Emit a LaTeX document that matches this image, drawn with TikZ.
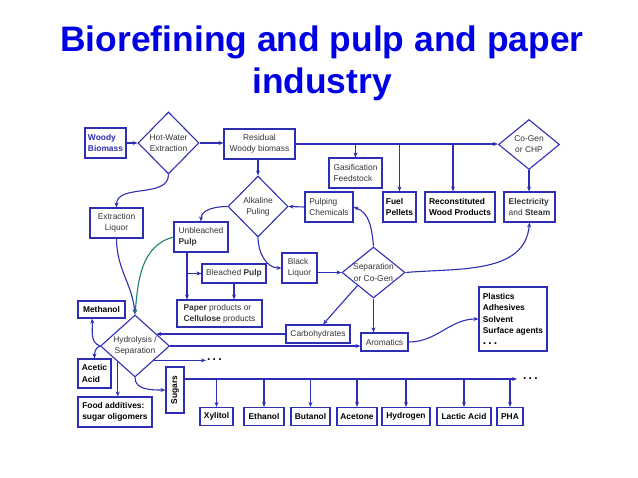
\documentclass[tikz,border=0pt]{standalone}
\usepackage{fontspec}
\setmainfont{Liberation Sans}
\usepackage{graphicx}
\usetikzlibrary{shapes.geometric, arrows.meta}
\definecolor{diag}{RGB}{46,46,178}
\definecolor{ttl}{RGB}{0,0,228}
\definecolor{pulpgreen}{RGB}{28,128,112}
\newcommand{\bigdots}{{\fontsize{12}{11.2}\selectfont\bfseries .\hspace{2.2pt}.\hspace{2.2pt}.}}

\begin{document}
\begin{tikzpicture}[x=1pt, y=-1pt, >={Stealth[length=5pt,width=4pt]},
  box/.style={draw=diag, line width=1.1pt, inner sep=1.5pt, align=center, text=black!80,
    font=\fontsize{8.4}{11.2}\selectfont},
  bbox/.style={box, text=black, font=\fontsize{8.4}{11.2}\selectfont\bfseries},
  dia/.style={box, diamond, inner sep=0pt},
  flow/.style={draw=diag, line width=1.1pt, ->}]
  \useasboundingbox (0,0) rectangle (638,478);
  \node[text=ttl, font=\fontsize{35.4}{42}\bfseries, align=center, inner sep=0pt, anchor=north] (title) at (322,25.5) {Biorefining and pulp and paper\\industry};

  % top row
  \node[bbox, text=diag, align=left, minimum width=41pt, minimum height=30pt] (woody) at (105.5,143) {Woody\\Biomass};
  \node[dia, minimum width=61pt, minimum height=62pt] (hotwater) at (168.5,143) {Hot-Water\\Extraction};
  \node[box, minimum width=71pt, minimum height=30pt] (residual) at (259.5,144) {Residual\\Woody biomass};
  \node[box, align=left, minimum width=53pt, minimum height=30pt] (gasif) at (355.5,173) {Gasification\\Feedstock};
  \node[dia, aspect=1.25, minimum width=61pt, minimum height=50pt] (cogen) at (529,144.5) {Co-Gen\\or CHP};

  \node[box, minimum width=53pt, minimum height=30pt] (extliq) at (116.5,223) {Extraction\\Liquor};
  \node[dia, minimum width=60pt, minimum height=61pt] (alkaline) at (258,206.5) {Alkaline\\Puling};
  \node[box, align=left, minimum width=48pt, minimum height=30pt] (pulpchem) at (329,207) {Pulping\\Chemicals};
  \node[bbox, align=left, minimum width=33pt, minimum height=30pt] (fuel) at (399.5,207) {Fuel\\Pellets};
  \node[bbox, align=left, minimum width=70pt, minimum height=30pt] (recon) at (460,207) {Reconstituted\\Wood Products};
  \node[box, align=left, minimum width=51pt, minimum height=30pt] (elec) at (529.5,207) {\textbf{Electricity}\\and \textbf{Steam}};

  % pulp line
  \node[box, align=left, minimum width=54pt, minimum height=30pt] (unbl) at (201,237) {Unbleached\\\textbf{Pulp}};
  \node[box, minimum width=64pt, minimum height=19pt] (bleached) at (234,273.5) {Bleached \textbf{Pulp}};
  \node[box, align=left, minimum width=35pt, minimum height=30pt] (black) at (299.5,268) {Black\\Liquor};
  \node[dia, aspect=1.25, minimum width=63pt, minimum height=51pt] (sep) at (373.5,272.5) {Separation\\or Co-Gen};
  \node[box, align=left, minimum width=85pt, minimum height=27pt] (paper) at (219.5,313.5) {\textbf{Paper} products or\\\textbf{Cellulose} products};

  % hydrolysis and products
  \node[bbox, minimum width=47pt, minimum height=17pt] (methanol) at (101.5,309.5) {Methanol};
  \node[dia, aspect=1.1, minimum width=69pt, minimum height=62pt] (hydro) at (135,346) {Hydrolysis /\\Separation};
  \node[box, minimum width=64pt, minimum height=18pt] (carbo) at (318,334) {Carbohydrates};
  \node[box, minimum width=47pt, minimum height=18pt] (arom) at (384.5,342) {Aromatics};
  \node[bbox, align=left, minimum width=68pt, minimum height=64pt] (plastics) at (513,319) {Plastics\\Adhesives\\Solvent\\Surface agents\\\bigdots};
  \node[bbox, align=left, minimum width=33pt, minimum height=29pt] (acetic) at (94.5,373.5) {Acetic\\Acid};
  \node[bbox, align=left, minimum width=74pt, minimum height=30pt] (food) at (115,412) {Food additives:\\sugar oligomers};
  \node[bbox, minimum width=18pt, minimum height=46pt] (sugars) at (175,390) {\rotatebox{90}{Sugars}};
  \node[anchor=west, inner sep=1pt] (dots1) at (206,360) {\bigdots};
  \coordinate (sugend) at (517,379);
  \node[anchor=west, inner sep=1pt] (dots2) at (522,379) {\bigdots};

  \node[bbox, minimum width=33pt, minimum height=18pt] (xylitol) at (216.5,416.5) {Xylitol};
  \node[bbox, minimum width=40pt, minimum height=18pt] (ethanol) at (264,416.5) {Ethanol};
  \node[bbox, minimum width=39pt, minimum height=18pt] (butanol) at (310.5,416.5) {Butanol};
  \node[bbox, minimum width=40pt, minimum height=18pt] (acetone) at (357,416.5) {Acetone};
  \node[bbox, minimum width=48pt, minimum height=18pt] (hydrogen) at (406,416.5) {Hydrogen};
  \node[bbox, minimum width=54pt, minimum height=18pt] (lactic) at (464,416.5) {Lactic Acid};
  \node[bbox, minimum width=26pt, minimum height=18pt] (pha) at (510,416.5) {PHA};

  % connectors
  \draw[flow] (woody) -- (hotwater);
  \draw[flow] (hotwater.east) -- (hotwater.east -| residual.west);
  \draw[flow] (residual.east) -- (residual.east -| cogen.west);
  \coordinate (recondrop) at ([xshift=-7pt]recon.north);
  \draw[flow] (gasif.north |- residual.east) -- (gasif.north);
  \draw[flow] (fuel.north |- residual.east) -- (fuel.north);
  \draw[flow] (recondrop |- residual.east) -- (recondrop);
  \draw[flow] (cogen.south) -- (cogen.south |- elec.north);
  \draw[flow] (hotwater.south) to[out=-90,in=90] (extliq.north);
  \draw[flow] (alkaline.north |- residual.south) -- (alkaline.north);
  \draw[flow] (pulpchem.west) -- (alkaline.east);
  \draw[flow] (alkaline.west) to[out=180,in=90] (unbl.north);
  \draw[flow] (alkaline.south) to[out=-90,in=180] (black.west);
  \coordinate (unbldrop) at ([xshift=-14pt]unbl.south);
  \draw[flow] (unbldrop) -- (unbldrop |- paper.north);
  \draw[flow] (unbldrop |- bleached.west) -- (bleached.west);
  \draw[flow] (bleached.south) -- (bleached.south |- paper.north);
  \draw[flow] (sep.west -| black.east) -- (sep.west);
  \draw[flow] (sep.north) to[out=95,in=-20] (pulpchem.east);
  \draw[flow] (sep.east) to[out=5,in=-95] (elec.south);
  \draw[flow] (sep.south west) -- ([xshift=5pt]carbo.north);
  \draw[flow] (sep.south) -- (sep.south |- arom.north);
  \draw[flow] (carbo.west) -- (carbo.west -| hydro.30);
  \draw[flow] (hydro.east) -- (hydro.east -| arom.west);
  \draw[flow] (arom.east) to[out=0,in=180] (plastics.west);
  \draw[flow] (extliq.south) to[out=-90,in=95] (hydro.north);
  \draw[flow, draw=pulpgreen] (unbl.west) to[out=195,in=85] (hydro.north);
  \draw[flow] (hydro.west) to[out=160,in=-85] ([xshift=-9.5pt]methanol.south);
  \draw[flow] (hydro.west) to[out=200,in=90] (acetic.north);
  \draw[flow] (hydro.223) -- (hydro.223 |- food.north);
  \draw[flow] (hydro.-37) -- (hydro.-37 -| dots1.west);
  \draw[flow] (hydro.south) to[out=-90,in=180] (sugars.west);
  \draw[flow] (sugend -| sugars.east) -- (sugend);
  \foreach \p in {xylitol, ethanol, butanol, acetone, hydrogen, lactic, pha}
    \draw[flow] (\p.north |- sugend) -- (\p.north);
\end{tikzpicture}
\end{document}
